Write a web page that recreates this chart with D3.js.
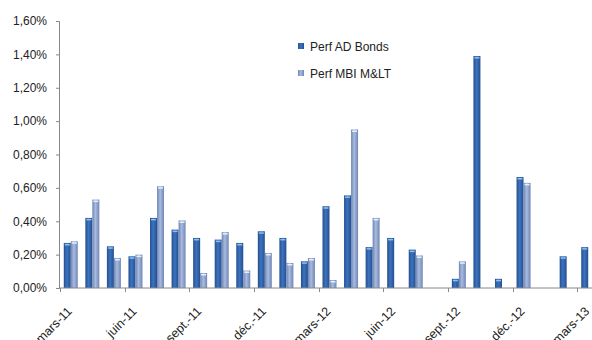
<!DOCTYPE html>
<html>
<head>
<meta charset="utf-8">
<script src="https://cdn.jsdelivr.net/npm/d3@7"></script>
<style>
  body { margin: 0; background: #fff; }
  svg { display: block; font-family: "Liberation Sans", Arial, sans-serif; }
</style>
</head>
<body>
<div id="chart"></div>
<script>
// monthly performance, in %
var months = ["mars-11","avr.-11","mai-11","juin-11","juil.-11","août-11","sept.-11","oct.-11","nov.-11","déc.-11",
              "janv.-12","févr.-12","mars-12","avr.-12","mai-12","juin-12","juil.-12","août-12","sept.-12","oct.-12",
              "nov.-12","déc.-12","janv.-13","févr.-13","mars-13"];
var adBonds = [0.27,0.42,0.25,0.19,0.42,0.35,0.30,0.29,0.27,0.34,
               0.30,0.16,0.49,0.555,0.245,0.30,0.23,null,0.055,1.39,
               0.055,0.665,null,0.19,0.245];
var mbiMLT  = [0.28,0.53,0.18,0.20,0.61,0.405,0.09,0.335,0.105,0.21,
               0.15,0.18,0.048,0.95,0.42,null,0.195,null,0.16,null,
               null,0.63,null,null,null];
var seriesNames = ["Perf AD Bonds", "Perf MBI M&LT"];
var yTicks = [0, 0.2, 0.4, 0.6, 0.8, 1.0, 1.2, 1.4, 1.6];
var labelMonths = ["mars-11","juin-11","sept.-11","déc.-11","mars-12","juin-12","sept.-12","déc.-12","mars-13"];

var width = 592, height = 340;
var svg = d3.select("#chart").append("svg")
    .attr("width", width)
    .attr("height", height);

var defs = svg.append("defs");
function hGrad(id, edge, mid) {
  var g = defs.append("linearGradient").attr("id", id)
    .attr("x1", "0").attr("x2", "1").attr("y1", "0").attr("y2", "0");
  g.append("stop").attr("offset", "0%").attr("stop-color", edge);
  g.append("stop").attr("offset", "45%").attr("stop-color", mid);
  g.append("stop").attr("offset", "100%").attr("stop-color", edge);
}
hGrad("gDark", "#244f8e", "#3d73bf");
hGrad("gLight", "#6f85b3", "#a8bbe0");
var colors = ["url(#gDark)", "url(#gLight)"];
var capColors = ["#8cc0f0", "#e2f0ff"];

var x = d3.scaleBand()
  .domain(months)
  .range([60, 599])
  .paddingInner(0).paddingOuter(0);

var x1 = d3.scaleBand()
  .domain([0, 1])
  .range([0, x.bandwidth()])
  .paddingInner(0)
  .paddingOuter(0.54);

var y = d3.scaleLinear()
  .domain([0, 1.6])
  .range([288, 21]);

// Y axis
var yAxis = svg.append("g")
  .attr("transform", "translate(59,0)")
  .call(d3.axisLeft(y).tickValues(yTicks).tickSize(3).tickPadding(9)
    .tickFormat(function(d) { return d3.format(".2f")(d).replace(".", ",") + "%"; }));
yAxis.select(".domain").attr("stroke", "#888");
yAxis.selectAll(".tick line").attr("stroke", "#888");
yAxis.selectAll("text").attr("font-size", "12px").attr("fill", "#222");

// bars
var series = [adBonds, mbiMLT];
series.forEach(function(vals, s) {
  var g = svg.append("g");
  var rows = months.map(function(m, i) { return {m: m, v: vals[i]}; })
    .filter(function(d) { return d.v != null; });
  g.selectAll("rect.bar")
    .data(rows)
    .enter()
    .append("rect")
      .attr("class", "bar")
      .attr("x", function(d) { return x(d.m) + x1(s); })
      .attr("y", function(d) { return y(d.v); })
      .attr("width", x1.bandwidth())
      .attr("height", function(d) { return y(0) - y(d.v); })
      .attr("fill", colors[s]);
  g.selectAll("rect.cap")
    .data(rows)
    .enter()
    .append("rect")
      .attr("class", "cap")
      .attr("x", function(d) { return x(d.m) + x1(s) + 1; })
      .attr("y", function(d) { return y(d.v) + 1; })
      .attr("width", x1.bandwidth() - 2)
      .attr("height", 1.5)
      .attr("fill", capColors[s]);
});

// X axis
var xAxis = svg.append("g")
  .attr("transform", "translate(0,288)");
xAxis.append("line")
  .attr("x1", 59).attr("x2", width)
  .attr("stroke", "#888");
xAxis.selectAll("line.tk")
  .data(labelMonths)
  .enter()
  .append("line")
    .attr("class", "tk")
    .attr("x1", function(d) { return Math.round(x(d)) + 0.5; })
    .attr("x2", function(d) { return Math.round(x(d)) + 0.5; })
    .attr("y1", 0).attr("y2", 4)
    .attr("stroke", "#888");
xAxis.selectAll("text")
  .data(labelMonths)
  .enter()
  .append("text")
    .attr("transform", function(d) {
      return "translate(" + (x(d) + x.bandwidth() / 2 + 2) + ",24)rotate(-45)";
    })
    .attr("text-anchor", "end")
    .attr("font-size", "12.5px")
    .attr("fill", "#222")
    .text(function(d) { return d; });

// legend
var legend = svg.append("g").attr("transform", "translate(298,43)");
seriesNames.forEach(function(name, i) {
  legend.append("rect")
    .attr("x", 0).attr("y", i * 27)
    .attr("width", 6).attr("height", 6)
    .attr("fill", colors[i]);
  legend.append("text")
    .attr("x", 12).attr("y", i * 27 + 8)
    .attr("font-size", "12px")
    .attr("fill", "#222")
    .text(name);
});
</script>
</body>
</html>
